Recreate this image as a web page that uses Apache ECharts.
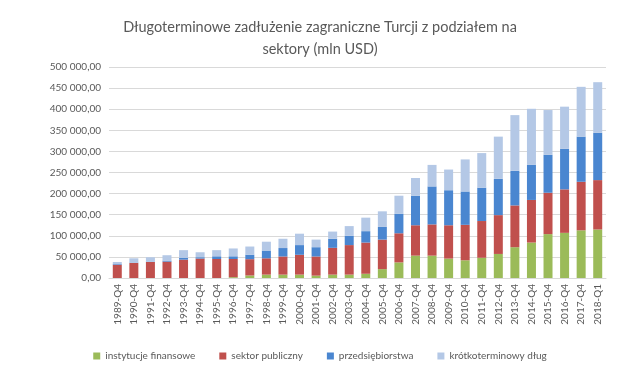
<!DOCTYPE html>
<html><head><meta charset="utf-8">
<script src="https://cdn.jsdelivr.net/npm/echarts@6/dist/echarts.min.js"></script>
<style>html,body{margin:0;padding:0;background:#fff}#c{width:640px;height:384px}</style>
</head><body><div id="c"></div>
<script>
const categories = ['1989-Q4','1990-Q4','1991-Q4','1992-Q4','1993-Q4','1994-Q4','1995-Q4','1996-Q4','1997-Q4','1998-Q4','1999-Q4','2000-Q4','2001-Q4','2002-Q4','2003-Q4','2004-Q4','2005-Q4','2006-Q4','2007-Q4','2008-Q4','2009-Q4','2010-Q4','2011-Q4','2012-Q4','2013-Q4','2014-Q4','2015-Q4','2016-Q4','2017-Q4','2018-Q1'];
const instytucjeFinansowe = [0,0,0,0,0,0,0,2000,6000,8000,8000,8000,5600,8000,8000,10000,21000,37000,53000,53000,46000,42000,48000,57000,73000,84000,104000,107000,113000,115000];
const sektorPubliczny = [31400,35500,37900,38700,43500,46000,45000,43000,38600,38700,43000,47000,45400,63500,70000,74000,70000,69000,72000,74000,79000,84000,87000,92000,99000,101000,98000,103000,115000,117000];
const przedsiebiorstwa = [1600,1000,1000,2400,4000,3200,6400,6400,10600,18300,20000,23000,22000,21500,22000,27000,30000,46000,70000,90000,83000,79000,79000,86000,82000,83000,90000,96000,107000,112000];
const krotkoterminowyDlug = [4900,10200,10300,12900,18500,11800,14600,18600,19400,21000,22000,27000,18000,17000,23000,32000,37000,43000,42000,51000,49000,76000,82000,100000,132000,133000,106000,100000,118000,120000];
const seriesNames = ['instytucje finansowe','sektor publiczny','przedsiębiorstwa','krótkoterminowy dług'];
const colors = ['#9bbb59','#c0504d','#4a86d0','#b4c8e6'];
const font = 'Lato, "Open Sans", sans-serif';
const fmt = v => {
  const s = Math.round(v).toString().replace(/\B(?=(\d{3})+(?!\d))/g, ' ');
  return s + ',00';
};
const chart = echarts.init(document.getElementById('c'), null, {renderer:'canvas'});
const dataArr = [instytucjeFinansowe, sektorPubliczny, przedsiebiorstwa, krotkoterminowyDlug];
chart.setOption({
  animation:false,
  color: colors,
  title:{
    text:'Długoterminowe zadłużenie zagraniczne Turcji z podziałem na\nsektory (mln USD)',
    left:'center', top:11,
    textStyle:{fontFamily:font, fontSize:14.5, fontWeight:'normal', color:'#595959', lineHeight:22}
  },
  legend:{
    bottom:18, left:'center', itemWidth:7, itemHeight:7, itemGap:24, icon:'rect',
    textStyle:{fontFamily:font, fontSize:10, color:'#595959'},
    data: seriesNames
  },
  grid:{left:109, top:67, width:497, height:211, containLabel:false},
  xAxis:{
    type:'category', data:categories,
    axisLine:{lineStyle:{color:'#d9d9d9'}},
    axisTick:{show:false},
    axisLabel:{rotate:90, interval:0, fontFamily:font, fontSize:10, color:'#595959', margin:6}
  },
  yAxis:{
    type:'value', min:0, max:500000, interval:50000,
    axisLine:{show:false}, axisTick:{show:false},
    splitLine:{lineStyle:{color:'#d9d9d9'}},
    axisLabel:{formatter:fmt, fontFamily:font, fontSize:10, color:'#595959', margin:8}
  },
  series: seriesNames.map((n,i)=>({
    name:n, type:'bar', stack:'total', data:dataArr[i], barWidth:9
  }))
});
</script></body></html>
